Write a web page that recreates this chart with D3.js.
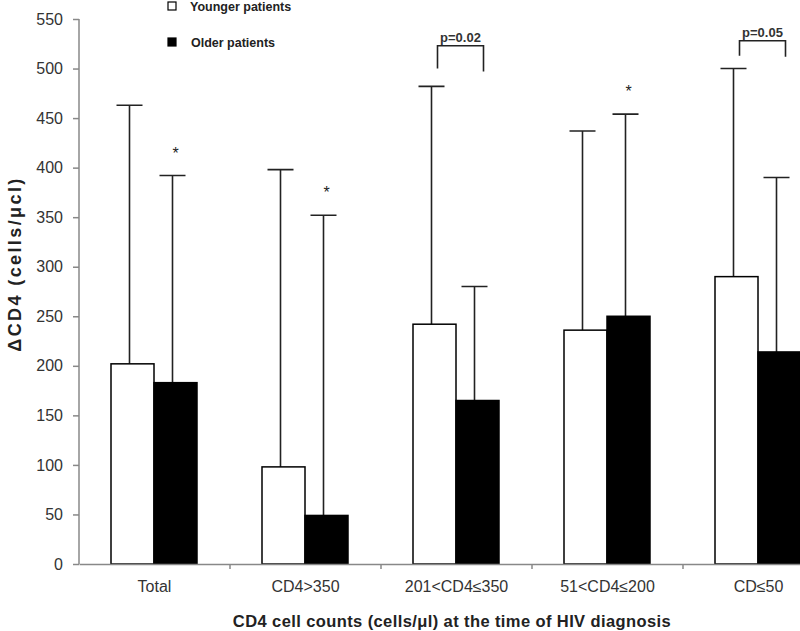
<!DOCTYPE html>
<html>
<head>
<meta charset="utf-8">
<script src="https://cdn.jsdelivr.net/npm/d3@7"></script>
<style>
  body { margin: 0; background: #fff; }
  text { font-family: "Liberation Sans", Arial, sans-serif; }
</style>
</head>
<body>
<div id="chart"></div>
<script>
const categories = ["Total", "CD4>350", "201<CD4≤350", "51<CD4≤200", "CD≤50"]
const younger = [202, 98, 242, 236, 290]
const older = [183, 49, 165, 250, 214]
const youngerErr = [463, 398, 482, 437, 500]
const olderErr = [392, 352, 280, 454, 390]
const yTicks = [0, 50, 100, 150, 200, 250, 300, 350, 400, 450, 500, 550]
const starred = ["Total", "CD4>350", "51<CD4≤200"]
const pCats = ["201<CD4≤350", "CD≤50"]
const pLabels = ["p=0.02", "p=0.05"]
const pTop = [523, 528]
const pLegs = [[500, 497], [513, 512]]
const seriesNames = ["Younger patients", "Older patients"]

const width = 800
const height = 631

const svg = d3.select("#chart").append("svg")
  .attr("width", width)
  .attr("height", height)

svg.append("rect").attr("width", width).attr("height", height).attr("fill", "#fff")

const x = d3.scaleBand().domain(categories).range([79, 834])
const xSub = d3.scaleBand().domain(["younger", "older"]).range([32, 118])
const y = d3.scaleLinear().domain([0, 550]).range([564, 19])

const rows = categories.map((c, i) => ({
  cat: c,
  bars: [
    { key: "younger", value: younger[i], err: youngerErr[i] },
    { key: "older", value: older[i], err: olderErr[i] }
  ]
}))

// error bars first so bars sit on top of them
const group = svg.append("g").selectAll("g")
  .data(rows)
  .join("g")
    .attr("transform", d => `translate(${x(d.cat)},0)`)

const cx = d => xSub(d.key) + xSub.bandwidth() / 2 - 3

group.selectAll(".err")
  .data(d => d.bars)
  .join("path")
    .attr("class", "err")
    .attr("fill", "none")
    .attr("stroke", "#222")
    .attr("stroke-width", 1.6)
    .attr("d", d => `M${cx(d)},${y(d.value)}V${y(d.err)}M${cx(d) - 13},${y(d.err)}H${cx(d) + 13}`)

group.selectAll(".bar")
  .data(d => d.bars)
  .join("rect")
    .attr("class", "bar")
    .attr("x", d => xSub(d.key))
    .attr("y", d => y(d.value))
    .attr("width", xSub.bandwidth())
    .attr("height", d => y(0) - y(d.value))
    .attr("fill", d => d.key === "younger" ? "#fff" : "#000")
    .attr("stroke", "#000")
    .attr("stroke-width", 1.5)

// asterisks over older bars
group.filter(d => starred.includes(d.cat))
  .append("text")
    .attr("x", d => cx(d.bars[1]) + 3)
    .attr("y", d => y(d.bars[1].err) - 17)
    .attr("text-anchor", "middle")
    .style("font-size", "16px")
    .attr("fill", "#222")
    .text("*")

// p-value brackets
pCats.forEach((c, i) => {
  const x0 = x(c) + xSub("younger") + xSub.bandwidth() / 2 + 3
  const x1 = x(c) + xSub("older") + xSub.bandwidth() / 2 + 6
  svg.append("path")
    .attr("fill", "none")
    .attr("stroke", "#222")
    .attr("stroke-width", 1.6)
    .attr("d", `M${x0},${y(pLegs[i][0])}V${y(pTop[i])}H${x1}V${y(pLegs[i][1])}`)
  svg.append("text")
    .attr("x", (x0 + x1) / 2)
    .attr("y", y(pTop[i]) - 4)
    .attr("text-anchor", "middle")
    .style("font-size", "13px")
    .style("font-weight", "bold")
    .attr("fill", "#333")
    .text(pLabels[i])
})

// y axis
const yAxis = svg.append("g")
  .attr("transform", "translate(79,0)")
  .call(d3.axisLeft(y).tickValues(yTicks).tickSize(6).tickPadding(10))
yAxis.select(".domain").attr("stroke", "#888").attr("stroke-width", 1.5).attr("d", `M0,${y(0)}V${y(550)}`)
yAxis.selectAll(".tick line").attr("stroke", "#888").attr("stroke-width", 1.5)
yAxis.selectAll(".tick text")
  .style("font-size", "16px")
  .style("font-family", "'Liberation Sans', Arial, sans-serif")
  .attr("fill", "#333")

// x axis
const xAxis = svg.append("g")
  .attr("transform", `translate(0,${y(0)})`)
  .call(d3.axisBottom(x).tickSize(0).tickPadding(17))
xAxis.select(".domain").attr("stroke", "#888").attr("stroke-width", 1.5)
xAxis.selectAll(".tick text")
  .style("font-size", "16px")
  .style("font-family", "'Liberation Sans', Arial, sans-serif")
  .attr("fill", "#333")
xAxis.selectAll(".bound")
  .data(categories.slice(1))
  .join("line")
    .attr("class", "bound")
    .attr("x1", d => x(d)).attr("x2", d => x(d))
    .attr("y1", 0).attr("y2", 5)
    .attr("stroke", "#888")
    .attr("stroke-width", 1.5)

// axis titles
svg.append("text")
  .attr("x", 452)
  .attr("y", 627)
  .attr("text-anchor", "middle")
  .style("font-size", "16.5px")
  .style("font-weight", "bold")
  .style("letter-spacing", "0.4px")
  .attr("fill", "#222")
  .text("CD4 cell counts (cells/μl) at the time of HIV diagnosis")

svg.append("text")
  .attr("transform", "translate(21,264) rotate(-90)")
  .attr("text-anchor", "middle")
  .style("font-size", "18px")
  .style("font-weight", "bold")
  .style("letter-spacing", "2.4px")
  .attr("fill", "#222")
  .text("ΔCD4 (cells/μcl)")

// legend
const legend = svg.append("g").selectAll("g")
  .data(seriesNames)
  .join("g")
    .attr("transform", (d, i) => `translate(168,${2 + i * 36})`)
legend.append("rect")
  .attr("width", 8).attr("height", 8)
  .attr("fill", (d, i) => i ? "#000" : "#fff")
  .attr("stroke", "#000")
  .attr("stroke-width", 1.2)
legend.append("text")
  .attr("x", (d, i) => 22 + i)
  .attr("y", 9)
  .style("font-size", "12.5px")
  .style("font-weight", "bold")
  .attr("fill", "#222")
  .text(d => d)
</script>
</body>
</html>
